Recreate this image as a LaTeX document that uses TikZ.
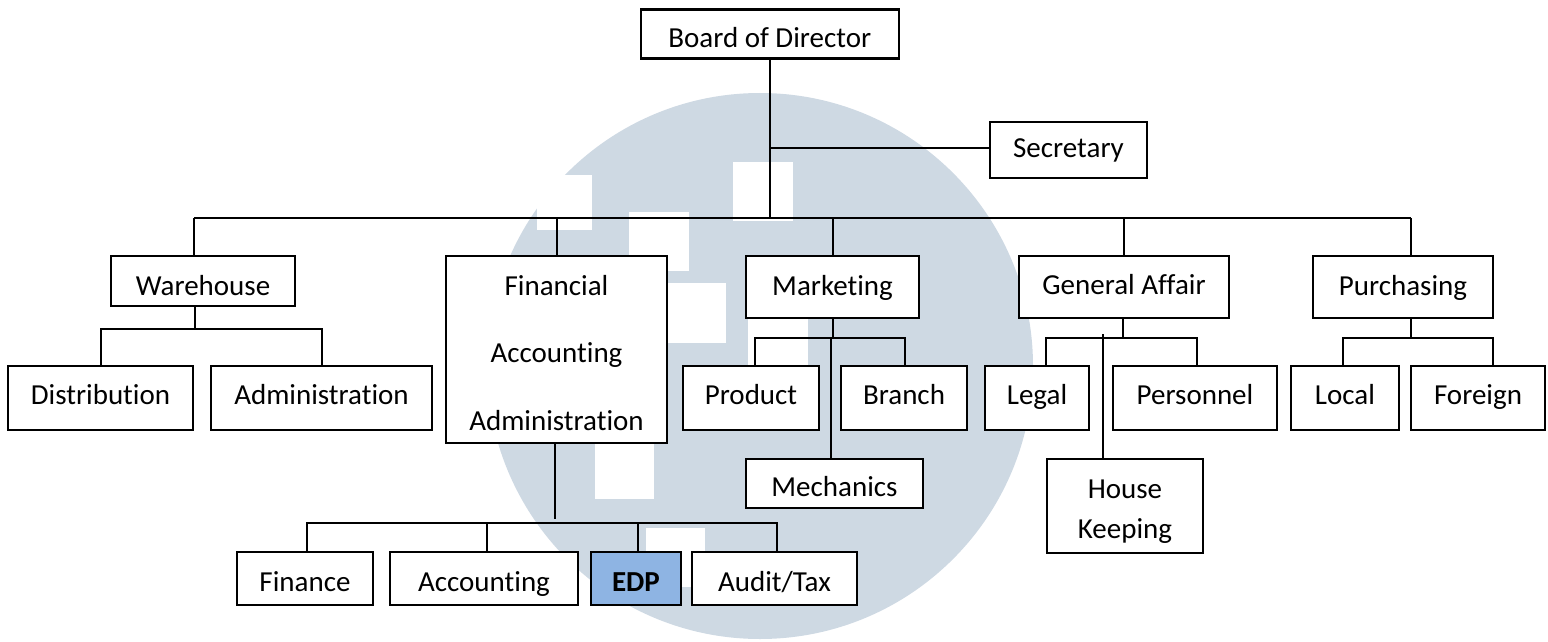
\documentclass[tikz,border=0pt]{standalone}
\usepackage{fontspec}
\setmainfont{Carlito}[Ligatures=NoCommon]
\definecolor{wmgray}{RGB}{206,217,227}
\definecolor{edpblue}{RGB}{142,180,227}
\begin{document}
\begin{tikzpicture}[x=0.5pt,y=-0.5pt,
  box/.style={draw, line width=1.3pt, fill=white, inner sep=0pt, align=center,
              font=\fontsize{14.5}{17}\selectfont},
  dims/.style 2 args={minimum width=#1*0.5pt, minimum height=#2*0.5pt},
  tb/.style={text height=#1pt, text depth=3pt},
  link/.style={line width=1pt},
]
\useasboundingbox (0,0) rectangle (1548,642);

% watermark: pale disc with white squares
\fill[wmgray] (760,366) circle[radius=136.5pt];
\fill[white] (537,175) rectangle (592,230);
\fill[white] (629,212) rectangle (689,271);
\fill[white] (733,162) rectangle (793,221);
\fill[white] (667,283) rectangle (726,343);
\fill[white] (748,307) rectangle (808,367);
\fill[white] (595,440) rectangle (654,499);
\fill[white] (646,528) rectangle (705,587);

% top level
\node[box, tb=17, dims={258}{49}] (board) at (769.8,34) {Board of Director};
\node[box, tb=11, dims={157}{56}] (sec) at (1068.5,150) {Secretary};

% departments
\node[box, tb=17, dims={184}{50}] (wh) at (203,281) {Warehouse};
\node[box, dims={221}{187}, font=\fontsize{14.5}{33.75}\selectfont] (fin) at (556.5,349.5)
  {\rule{0pt}{13.5pt}Financial\\Accounting\\Administration};
\node[box, tb=11, dims={173}{62}] (mkt) at (832.5,287) {Marketing};
\node[box, tb=10.5, dims={210}{62}] (ga) at (1124,287) {General Affair};
\node[box, tb=11, dims={180}{62}] (pur) at (1403,287) {Purchasing};

% sections
\node[box, tb=9.3, dims={185}{64}] (dist) at (100.5,398) {Distribution};
\node[box, tb=9.3, dims={221}{64}] (adm) at (321.5,398) {Administration};
\node[box, tb=9, dims={136}{64}] (prod) at (751,398) {Product};
\node[box, tb=9, dims={126}{64}] (branch) at (904,398) {Branch};
\node[box, tb=16, dims={177}{49}] (mech) at (834.5,483.5) {Mechanics};
\node[box, tb=9, dims={104}{64}] (legal) at (1037,398) {Legal};
\node[box, tb=9, dims={164}{64}] (pers) at (1195,398) {Personnel};
\node[box, dims={156}{94}, font=\fontsize{14.5}{20}\selectfont] (hk) at (1125,506)
  {\rule{0pt}{15pt}House\\Keeping};
\node[box, tb=9, dims={108}{64}] (local) at (1345,398) {Local};
\node[box, tb=9, dims={134}{64}] (foreign) at (1478,398) {Foreign};

\node[box, tb=16, dims={136}{53}] (finance) at (305,578.5) {Finance};
\node[box, tb=16, dims={188}{53}] (acc) at (484,578.5) {Accounting};
\node[box, tb=16, dims={90}{53}, fill=edpblue, font=\fontsize{14.5}{17}\selectfont\bfseries] (edp) at (636,578.5) {EDP};
\node[box, tb=16, dims={165}{53}] (audit) at (774.5,578.5) {Audit/Tax};

% board to bus and secretary
\coordinate (bus) at (769.8,218);
\coordinate (secJ) at (769.8,148);
\draw[link] (board.south) -- (bus);
\draw[link] (secJ) -- (secJ -| sec.west);

% main bus and department stems
\coordinate (busL) at (194,218);
\coordinate (busR) at (1411,218);
\draw[link] (busL) -- (busR);
\draw[link] (busL) -- (busL |- wh.north);
\draw[link] (bus -| fin.north) -- (fin.north);
\draw[link] (bus -| mkt.north) -- (mkt.north);
\draw[link] (bus -| ga.north) -- (ga.north);
\draw[link] (busR) -- (busR |- pur.north);

% warehouse sections
\coordinate (whJ) at (195,329);
\draw[link] (wh.south -| whJ) -- (whJ);
\draw[link] (dist.north) |- (whJ) -| (adm.north);

% marketing sections
\coordinate (mkJ) at (833,338);
\coordinate (mkL) at (755,338);
\coordinate (mkR) at (905,338);
\coordinate (mkM) at (831,338);
\draw[link] (mkt.south -| mkJ) -- (mkJ);
\draw[link] (mkL |- prod.north) -- (mkL) -- (mkR) -- (mkR |- branch.north);
\draw[link] (mkM) -- (mkM |- mech.north);

% general affair sections
\coordinate (gaJ) at (1123,338);
\coordinate (gaL) at (1046,338);
\coordinate (gaR) at (1197,338);
\coordinate (hkT) at (1103,334);
\draw[link] (ga.south -| gaJ) -- (gaJ);
\draw[link] (gaL |- legal.north) -- (gaL) -- (gaR) -- (gaR |- pers.north);
\draw[link] (hkT) -- (hkT |- hk.north);

% purchasing sections
\coordinate (puJ) at (1411,338);
\coordinate (puL) at (1343,338);
\coordinate (puR) at (1493,338);
\draw[link] (pur.south -| puJ) -- (puJ);
\draw[link] (puL |- local.north) -- (puL) -- (puR) -- (puR |- foreign.north);

% financial accounting administration sections
\coordinate (fnJ) at (555,519);
\coordinate (fbL) at (307,523);
\coordinate (fbA) at (487,523);
\coordinate (fbE) at (638,523);
\coordinate (fbR) at (777,523);
\draw[link] (fin.south -| fnJ) -- (fnJ);
\draw[link] (fbL |- finance.north) -- (fbL) -- (fbR) -- (fbR |- audit.north);
\draw[link] (fbA) -- (fbA |- acc.north);
\draw[link] (fbE) -- (fbE |- edp.north);
\end{tikzpicture}
\end{document}
